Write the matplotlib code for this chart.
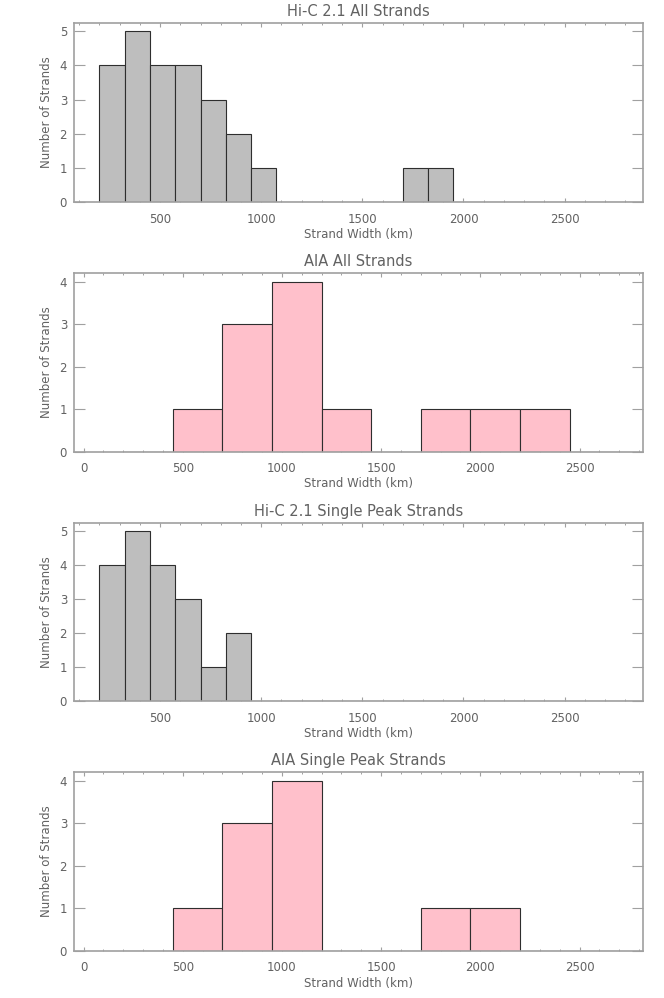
import numpy as np
import matplotlib
matplotlib.use('Agg')
import matplotlib.pyplot as plt
from matplotlib.ticker import MultipleLocator

# Histogram data (bin edges start at 200 km)
hic_start = 200
hic_binsize = 125
hic_all = [4, 5, 4, 4, 3, 2, 1, 0, 0, 0, 0, 0, 1, 1,
           0, 0, 0, 0, 0, 0, 0, 0]
hic_single = [4, 5, 4, 3, 1, 2, 0, 0, 0, 0, 0, 0, 0, 0,
              0, 0, 0, 0, 0, 0, 0, 0]

aia_start = 200
aia_binsize = 250
aia_all = [0, 1, 3, 4, 1, 0, 1, 1, 1, 0]
aia_single = [0, 1, 3, 4, 0, 0, 1, 1, 0, 0]

titles = ['Hi-C 2.1 All Strands', 'AIA All Strands',
          'Hi-C 2.1 Single Peak Strands', 'AIA Single Peak Strands']

hic_xrange = (74, 2888)
aia_xrange = (-48, 2820)

txt_col = '#626262'
axis_col = '#a0a0a0'

fig = plt.figure(figsize=(6.64, 9.98), dpi=100)

# axes boxes in pixel coords: (top, bottom)
boxes = [(22.7, 202.3), (273.3, 451.7), (522.5, 701.3), (772.0, 951.0)]
left_px, right_px = 74.0, 643.0
W, H = 664.0, 998.0

panels = [
    (hic_all, hic_start, hic_binsize, '#bebebe', hic_xrange),
    (aia_all, aia_start, aia_binsize, '#ffc0cb', aia_xrange),
    (hic_single, hic_start, hic_binsize, '#bebebe', hic_xrange),
    (aia_single, aia_start, aia_binsize, '#ffc0cb', aia_xrange),
]

for i, (counts, start, bsize, col, xr) in enumerate(panels):
    top, bot = boxes[i]
    ax = fig.add_axes([left_px/W, 1 - bot/H, (right_px-left_px)/W,
                       (bot-top)/H])
    counts = np.array(counts)
    edges = start + bsize*np.arange(len(counts))
    ax.bar(edges, counts, width=bsize, align='edge', color=col,
           edgecolor='#2e2e2e', linewidth=0.8, zorder=2)
    ax.set_xlim(*xr)
    ax.set_ylim(0, 1.05*counts.max())

    ax.xaxis.set_major_locator(MultipleLocator(500))
    ax.xaxis.set_minor_locator(MultipleLocator(100))
    ax.yaxis.set_major_locator(MultipleLocator(1))
    ax.tick_params(axis='x', which='major', direction='in', length=2.6,
                   width=0.8, color=axis_col, top=True, bottom=True,
                   labelsize=8.5, labelcolor=txt_col, pad=7.5)
    ax.tick_params(axis='x', which='minor', direction='in', length=1.4,
                   width=0.7, color=axis_col, top=True, bottom=True)
    ax.tick_params(axis='y', which='major', direction='in', length=8,
                   width=0.8, color=axis_col, left=True, right=True,
                   labelsize=8.5, labelcolor=txt_col, pad=5)
    for sp in ax.spines.values():
        sp.set_color(axis_col)
        sp.set_linewidth(1.2)

    ax.set_title(titles[i], fontsize=10.5, color=txt_col, pad=5)
    ax.set_xlabel('Strand Width (km)', fontsize=8.5, color=txt_col,
                  labelpad=1.5)
    ax.set_ylabel('Number of Strands', fontsize=8.5, color=txt_col,
                  labelpad=5)

fig.savefig('out.png', dpi=100)
